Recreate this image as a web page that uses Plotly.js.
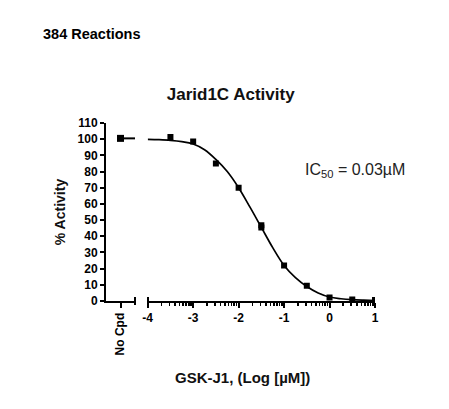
<!DOCTYPE html>
<html>
<head>
<meta charset="utf-8">
<script src="https://cdn.plot.ly/plotly-3.0.1.min.js"></script>
<style>html,body{margin:0;padding:0;background:#fff;}#chart{width:449px;height:409px;}</style>
</head>
<body>
<div id="chart"></div>
<script>
// ---- data ----
const noCpdLabel = ["No Cpd"];
const noCpdX = [0];
const noCpdY = [100.5];
const logConc = [-3.5, -3, -2.5, -2, -1.5, -1.5, -1, -0.5, 0, 0.5, 1];
const activity = [101.3, 98.6, 85.0, 70.0, 46.8, 45.4, 22.0, 9.5, 2.2, 1.0, 0.6];
const fitX = [-4, -3.75, -3.5, -3.25, -3, -2.75, -2.5, -2.25, -2, -1.75, -1.5, -1.25, -1, -0.75, -0.5, -0.25, 0, 0.25, 0.5, 0.75, 1];
const fitY = [99.9, 99.7, 99.3, 98.5, 97.0, 93.5, 87.5, 80.0, 70.0, 58.0, 45.5, 33.0, 22.0, 14.5, 9.0, 5.0, 2.5, 1.4, 0.8, 0.5, 0.3];
const xTickVals = [-4, -3, -2, -1, 0, 1];
const xTickText = ["-4", "-3", "-2", "-1", "0", "1"];
const yTickVals = [0, 10, 20, 30, 40, 50, 60, 70, 80, 90, 100, 110];

// ---- layout helpers (pixel -> paper) ----
const Wd = 449, Ht = 409;
const L = 106, R = 74, T = 123, B = 108;
const PW = Wd - L - R, PH = Ht - T - B;
const px = X => (X - L) / PW;
const py = Y => 1 - (Y - T) / PH;

const FONT = "'Liberation Sans', Arial, Helvetica, sans-serif";

const minorVals = [];
for (let d = -4; d < 1; d++) {
  for (let k = 2; k <= 9; k++) minorVals.push(d + Math.log10(k));
}

const traces = [
  {x: [noCpdX[0], 1], y: [noCpdY[0], noCpdY[0]], xaxis: 'x', yaxis: 'y', mode: 'lines',
   line: {color: '#000', width: 2}, hoverinfo: 'skip', showlegend: false},
  {x: noCpdX, y: noCpdY, xaxis: 'x', yaxis: 'y', mode: 'markers',
   marker: {symbol: 'square', size: 7, color: '#000'}, showlegend: false},
  {x: fitX, y: fitY, xaxis: 'x2', yaxis: 'y', mode: 'lines',
   line: {color: '#000', width: 1.7, shape: 'spline'}, showlegend: false},
  {x: logConc, y: activity, xaxis: 'x2', yaxis: 'y', mode: 'markers',
   marker: {symbol: 'square', size: 6, color: '#000'}, showlegend: false}
];

const tickFont = {family: FONT, size: 12, color: '#000', weight: 'bold'};

const capLine = X => ({type: 'line', xref: 'paper', yref: 'paper',
  x0: px(X), x1: px(X), y0: py(297), y1: py(305), line: {color: '#000', width: 2}});

const layout = {
  width: Wd, height: Ht,
  margin: {l: L, r: R, t: T, b: B, pad: 0},
  paper_bgcolor: '#fff', plot_bgcolor: '#fff',
  showlegend: false,
  title: {text: '<b>Jarid1C Activity</b>', xref: 'container', yref: 'container',
          x: 230.7 / Wd, xanchor: 'center', y: 1 - 94 / Ht, yanchor: 'middle',
          font: {family: FONT, size: 17, color: '#111'}},
  xaxis: {domain: [0, px(135)], range: [-1, 1], anchor: 'y',
          showline: true, linecolor: '#000', linewidth: 2, showgrid: false, zeroline: false,
          tickvals: noCpdX, ticktext: noCpdLabel.map(s => '<b>' + s + '</b>'), tickangle: -90,
          ticks: 'outside', ticklen: 5, tickwidth: 2, tickcolor: '#000',
          tickfont: tickFont, fixedrange: true},
  xaxis2: {domain: [px(147.7), 1], range: [-4, 1], anchor: 'y',
           showline: true, linecolor: '#000', linewidth: 2, showgrid: false, zeroline: false,
           tickvals: xTickVals, ticktext: xTickText.map(s => '<b>' + s + '</b>'),
           ticks: 'outside', ticklen: 5, tickwidth: 2, tickcolor: '#000',
           tickfont: tickFont,
           minor: {tickvals: minorVals, ticks: 'outside', ticklen: 3, tickwidth: 1.5, tickcolor: '#000', showgrid: false},
           fixedrange: true},
  yaxis: {domain: [0, 1], range: [0, 110], anchor: 'x',
          showline: true, linecolor: '#000', linewidth: 2, showgrid: false, zeroline: false,
          tickvals: yTickVals, ticktext: yTickVals.map(v => '<b>' + v + '</b>'),
          ticks: 'outside', ticklen: 4, tickwidth: 2, tickcolor: '#000',
          tickfont: tickFont,
          title: {text: '<b>% Activity</b>', font: {family: FONT, size: 14, color: '#111'}, standoff: 9},
          fixedrange: true},
  shapes: [capLine(135), capLine(148)],
  annotations: [
    {text: '<b>384 Reactions</b>', xref: 'paper', yref: 'paper', x: px(41), y: py(33.5),
     xanchor: 'left', yanchor: 'middle', showarrow: false,
     font: {family: FONT, size: 14.5, color: '#000'}},
    {text: 'IC<sub>50</sub> = 0.03µM', xref: 'paper', yref: 'paper', x: px(303), y: py(170),
     xanchor: 'left', yanchor: 'middle', showarrow: false,
     font: {family: FONT, size: 16, color: '#222'}},
    {text: '<b>GSK-J1, (Log [µM])</b>', xref: 'paper', yref: 'paper', x: px(242.5), y: py(377),
     xanchor: 'center', yanchor: 'middle', showarrow: false,
     font: {family: FONT, size: 15, color: '#111'}}
  ]
};

Plotly.newPlot('chart', traces, layout, {displayModeBar: false, staticPlot: true});
</script>
</body>
</html>
